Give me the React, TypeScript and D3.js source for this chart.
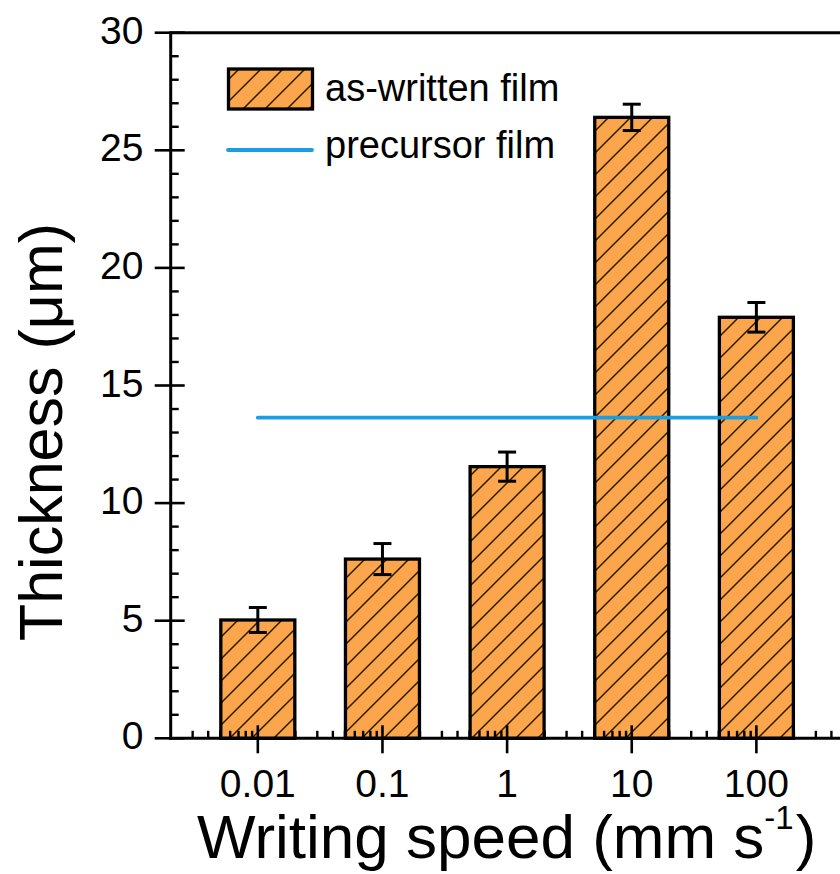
import React from 'react';
import * as d3 from 'd3';

const speeds = [0.01, 0.1, 1, 10, 100];
const thickness = [5.03, 7.62, 11.55, 26.4, 17.9];
const errors = [0.53, 0.66, 0.62, 0.56, 0.63];
const precursorThickness = 13.63;
const precursorRange = [0.01, 100];
const xTickValues = [0.01, 0.1, 1, 10, 100];
const xTickLabels = ['0.01', '0.1', '1', '10', '100'];
const yTickValues = [0, 5, 10, 15, 20, 25, 30];
const legendLabels = ['as-written film', 'precursor film'];

const FONT = '"Liberation Sans", Arial, Helvetica, sans-serif';
const ORANGE = '#FBA64C';
const BLUE = '#1B9DE2';

export default function App() {
  const W = 840;
  const H = 874;
  const x = d3.scaleLog().domain([0.002, 500]).range([170.7, 843.5]);
  const y = d3.scaleLinear().domain([0, 30]).range([738.3, 32.7]);
  const x0 = x.range()[0];
  const y0 = y(0);
  const yTop = y(30);
  const bw = 74;

  const xMinor = x.ticks().filter((v) => {
    const l = Math.log10(v);
    return Math.abs(l - Math.round(l)) > 1e-6;
  }).filter((v) => x(v) > x0 + 1 && x(v) <= W);
  const yMinor = d3.range(0, 31, 1).filter((v) => v % 5 !== 0);

  return (
    <svg width={W} height={H} style={{ position: 'absolute', left: 0, top: 0, background: '#fff' }} fontFamily={FONT}>
      <defs>
        <pattern id="hatch" patternUnits="userSpaceOnUse" width={22} height={22}>
          <rect x={0} y={0} width={22} height={22} fill={ORANGE} />
          <path d="M0,22 L22,0 M-5.5,5.5 L5.5,-5.5 M16.5,27.5 L27.5,16.5" stroke="#2a1808" strokeWidth={1.5} />
        </pattern>
      </defs>
      <rect x={0} y={0} width={W} height={H} fill="#fff" />

      {/* bars */}
      {speeds.map((s, i) => (
        <rect key={'b' + i} x={x(s) - bw / 2} y={y(thickness[i])} width={bw} height={y0 - y(thickness[i])}
          fill="url(#hatch)" stroke="#000" strokeWidth={3.3} />
      ))}

      {/* error bars */}
      {speeds.map((s, i) => {
        const cx = x(s);
        const t = y(thickness[i] + errors[i]);
        const b = y(thickness[i] - errors[i]);
        return (
          <g key={'e' + i} stroke="#000" strokeWidth={3}>
            <line x1={cx} x2={cx} y1={t} y2={b} />
            <line x1={cx - 9} x2={cx + 9} y1={t} y2={t} />
            <line x1={cx - 9} x2={cx + 9} y1={b} y2={b} />
          </g>
        );
      })}

      {/* precursor line */}
      <line x1={x(precursorRange[0])} x2={x(precursorRange[1])} y1={y(precursorThickness)} y2={y(precursorThickness)}
        stroke={BLUE} strokeWidth={3.8} strokeLinecap="round" />

      {/* axes */}
      <g stroke="#000">
        <line x1={x0} x2={x0} y1={yTop} y2={y0 + 1.5} strokeWidth={3} />
        <line x1={x0 - 1.5} x2={W} y1={y0} y2={y0} strokeWidth={3} />
        <line x1={x0 - 1.5} x2={W} y1={yTop} y2={yTop} strokeWidth={3} />
        {yTickValues.map((v) => (
          <line key={'ym' + v} x1={x0 - 16} x2={x0 + 14} y1={y(v)} y2={y(v)} strokeWidth={2.6} />
        ))}
        {yMinor.map((v) => (
          <line key={'yn' + v} x1={x0} x2={x0 + 8} y1={y(v)} y2={y(v)} strokeWidth={2.4} />
        ))}
        {xTickValues.map((v) => (
          <line key={'xm' + v} x1={x(v)} x2={x(v)} y1={y0 - 13} y2={y0 + 15} strokeWidth={2.6} />
        ))}
        {xMinor.map((v, i) => (
          <line key={'xn' + i} x1={x(v)} x2={x(v)} y1={y0 - 7.5} y2={y0} strokeWidth={2.4} />
        ))}
      </g>

      {/* tick labels */}
      {yTickValues.map((v) => (
        <text key={'yl' + v} x={143.5} y={y(v) + 11} fontSize={39} textAnchor="end" fill="#000">{v}</text>
      ))}
      {xTickValues.map((v, i) => (
        <text key={'xl' + v} x={x(v)} y={797} fontSize={39} textAnchor="middle" fill="#000">{xTickLabels[i]}</text>
      ))}

      {/* axis titles */}
      <text x={197} y={858} fontSize={62} fill="#000">
        Writing speed (mm s<tspan fontSize={33} dy={-29}>-1</tspan><tspan dx={2} dy={29}>)</tspan>
      </text>
      <text transform="translate(62,432) rotate(-90)" fontSize={61} textAnchor="middle" fill="#000">Thickness (μm)</text>

      {/* legend */}
      <rect x={228.5} y={69} width={84} height={40} fill="url(#hatch)" stroke="#000" strokeWidth={3.3} />
      <text x={325} y={101} fontSize={38} fill="#000">{legendLabels[0]}</text>
      <line x1={228} x2={312} y1={150} y2={150} stroke={BLUE} strokeWidth={3.8} strokeLinecap="round" />
      <text x={325} y={158} fontSize={38} fill="#000">{legendLabels[1]}</text>
    </svg>
  );
}
